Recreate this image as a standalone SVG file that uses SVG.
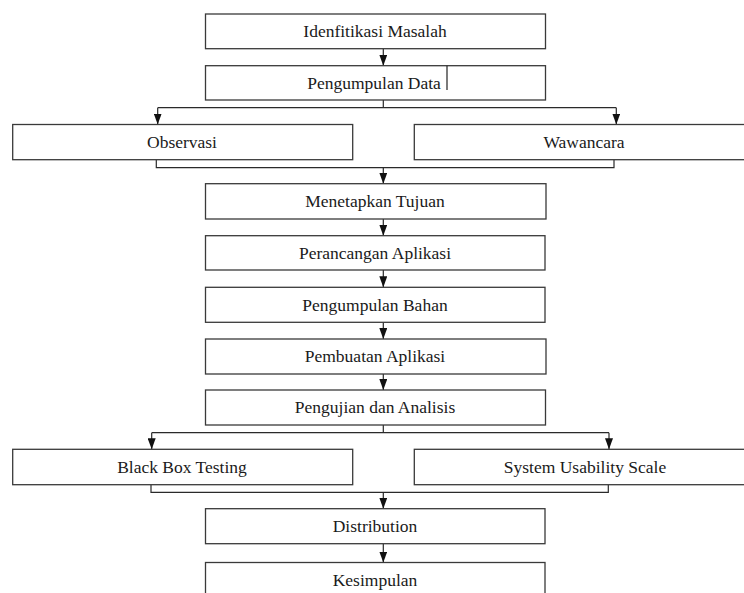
<svg xmlns="http://www.w3.org/2000/svg" width="744" height="593" viewBox="0 0 744 593">
<defs>
<marker id="ah" markerWidth="11" markerHeight="8" refX="11" refY="4" orient="auto" markerUnits="userSpaceOnUse" viewBox="0 0 11 8">
<path d="M0,0 L11,4 L0,8 Z" fill="#111"/>
</marker>
<style>
.box{fill:#fff;stroke:#3a3a3a;stroke-width:1.3}
.lbl{font-family:'Liberation Serif','DejaVu Serif','Noto Serif',serif;font-size:17.5px;fill:#1a1a1a;text-anchor:middle}
.ln{fill:none;stroke:#2a2a2a;stroke-width:1.2}
.ar{fill:none;stroke:#2a2a2a;stroke-width:1.2;marker-end:url(#ah)}
</style>
</defs>
<rect width="744" height="593" fill="#fff"/>
<g id="connectors">
<path class="ar" d="M383.3,48.7 V65.7"/>
<path class="ln" d="M383.3,100 V107.7 M157.7,107.7 H616.3"/>
<path class="ar" d="M157.7,107.7 V124.5"/>
<path class="ar" d="M616.3,107.7 V124.5"/>
<path class="ln" d="M156.3,159.7 V167.7 H614 V159.7"/>
<path class="ar" d="M383.3,167.7 V183.7"/>
<path class="ar" d="M383.3,219 V235.7"/>
<path class="ar" d="M383.3,270 V287.3"/>
<path class="ar" d="M383.3,322.3 V339"/>
<path class="ar" d="M383.3,374 V390"/>
<path class="ln" d="M383.3,425 V432.7 M151.7,432.7 H609"/>
<path class="ar" d="M151.7,432.7 V449.3"/>
<path class="ar" d="M609,432.7 V449.3"/>
<path class="ln" d="M151,484.7 V492.3 H608.3 V484.7"/>
<path class="ar" d="M383.3,492.3 V508.7"/>
<path class="ar" d="M383.3,543.7 V562.5"/>
</g>
<g id="n1"><rect class="box" x="205.5" y="14" width="340" height="34.7"/><text class="lbl" x="375" y="37" font-family="Liberation Serif, serif">Idenfitikasi Masalah</text></g>
<g id="n2"><rect class="box" x="205.5" y="65.7" width="340" height="34.3"/><text class="lbl" x="374" y="88.5" font-family="Liberation Serif, serif">Pengumpulan Data</text><line x1="447" y1="65.7" x2="447" y2="90" stroke="#222" stroke-width="1.2"/></g>
<g id="n3"><rect class="box" x="12.7" y="124.5" width="340" height="35.2"/><text class="lbl" x="182" y="147.7">Observasi</text></g>
<g id="n4"><rect class="box" x="414.3" y="124.5" width="340" height="35.2"/><text class="lbl" x="584" y="147.7">Wawancara</text></g>
<g id="n5"><rect class="box" x="205.5" y="183.7" width="340.5" height="35.3"/><text class="lbl" x="375" y="207">Menetapkan Tujuan</text></g>
<g id="n6"><rect class="box" x="205.5" y="235.7" width="339.5" height="34.3"/><text class="lbl" x="375" y="258.5">Perancangan Aplikasi</text></g>
<g id="n7"><rect class="box" x="205.5" y="287.3" width="339.5" height="35"/><text class="lbl" x="375" y="310.5">Pengumpulan Bahan</text></g>
<g id="n8"><rect class="box" x="205.5" y="339" width="340.5" height="35"/><text class="lbl" x="375" y="362">Pembuatan Aplikasi</text></g>
<g id="n9"><rect class="box" x="205.5" y="390" width="340" height="35"/><text class="lbl" x="375" y="413">Pengujian dan Analisis</text></g>
<g id="n10"><rect class="box" x="12.7" y="449.3" width="340" height="35.4"/><text class="lbl" x="182" y="472.5">Black Box Testing</text></g>
<g id="n11"><rect class="box" x="414.3" y="449.3" width="340" height="35.4"/><text class="lbl" x="585" y="472.5">System Usability Scale</text></g>
<g id="n12"><rect class="box" x="205.5" y="508.7" width="339.5" height="35"/><text class="lbl" x="375" y="532">Distribution</text></g>
<g id="n13"><rect class="box" x="205.5" y="562.5" width="339.5" height="36"/><text class="lbl" x="375" y="585.5">Kesimpulan</text></g>
</svg>
